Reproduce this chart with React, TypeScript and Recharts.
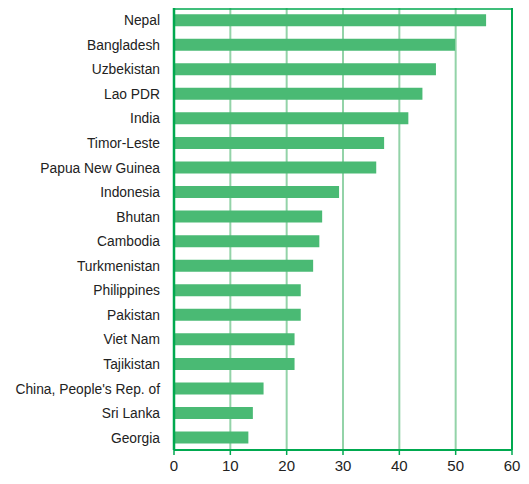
import React from "react";
import { BarChart, Bar, XAxis, YAxis, CartesianGrid, ReferenceLine } from "recharts";

const countries = [
  "Nepal", "Bangladesh", "Uzbekistan", "Lao PDR", "India", "Timor-Leste",
  "Papua New Guinea", "Indonesia", "Bhutan", "Cambodia", "Turkmenistan",
  "Philippines", "Pakistan", "Viet Nam", "Tajikistan", "China, People's Rep. of",
  "Sri Lanka", "Georgia",
];
const values = [55.4, 49.9, 46.5, 44.1, 41.6, 37.3, 35.9, 29.3, 26.3, 25.8, 24.7, 22.5, 22.5, 21.4, 21.4, 15.9, 14.0, 13.2];
const xTicks = [0, 10, 20, 30, 40, 50, 60];

const data = countries.map((name, i) => ({ name, value: values[i] }));

const BORDER = "#00a94f";
const GRID = "#93d3a8";
const BAR = "#4aba74";

export default function App() {
  return (
    <BarChart
      width={521}
      height={476}
      data={data}
      layout="vertical"
      margin={{ top: 0, right: 17, bottom: 0, left: 0 }}
      barCategoryGap="25%"
    >
      <CartesianGrid
        horizontal={false}
        vertical={true}
        stroke={GRID}
        strokeWidth={2}
      />
      <CartesianGrid
        horizontal={true}
        vertical={false}
        stroke={BORDER}
        strokeWidth={1.5}
        horizontalCoordinatesGenerator={({ offset }: any) => [offset.top + 1]}
      />
      <XAxis
        type="number"
        domain={[0, 60]}
        ticks={xTicks}
        interval={0}
        height={34}
        axisLine={{ stroke: BORDER, strokeWidth: 2 }}
        tickLine={{ stroke: BORDER, strokeWidth: 1.5 }}
        tickSize={5}
        tickMargin={5}
        tick={{ fill: "#222", fontSize: 15, fontFamily: "Liberation Sans, Arial, sans-serif" }}
      />
      <YAxis
        type="category"
        dataKey="name"
        width={166}
        interval={0}
        axisLine={{ stroke: BORDER, strokeWidth: 2.5 }}
        tickLine={false}
        tickSize={0}
        tickMargin={14}
        tick={{ fill: "#222", fontSize: 13.8, fontFamily: "Liberation Sans, Arial, sans-serif" }}
      />
      <ReferenceLine x={60} stroke={BORDER} strokeWidth={2} />
      <Bar dataKey="value" fill={BAR} isAnimationActive={false} />
    </BarChart>
  );
}
